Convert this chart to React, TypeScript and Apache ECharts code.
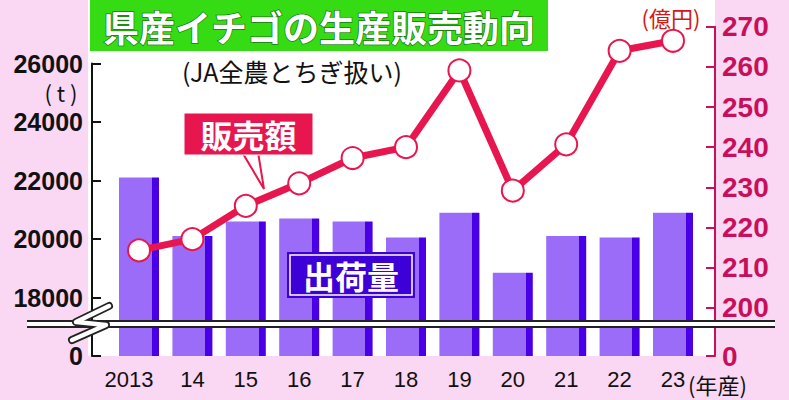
import { useEffect, useRef } from 'react'
import * as echarts from 'echarts'

const years = ['2013', '14', '15', '16', '17', '18', '19', '20', '21', '22', '23']
// 出荷量 (t)
const shipments = [22100, 20100, 20600, 20700, 20600, 20050, 20900, 18850, 20100, 20050, 20900]
// 販売額 (億円)
const sales = [214.3, 217.1, 225.4, 231.0, 237.3, 240.0, 259.1, 229.2, 240.7, 264.0, 266.5]

// left axis: the bottom value stands for "0" (axis is broken below 18000)
const leftBase = 16000
const leftMax = 26000
const leftStep = 2000
// right axis: same idea, bottom value stands for "0"
const rightBase = 188
const rightMax = 270
const rightTicks = [188, 200, 210, 220, 230, 240, 250, 260, 270]

const digits = "'Liberation Sans', Arial, sans-serif"

const PINK = '#fad7f3'
const RED = '#e8164e'
const RED_AXIS = '#c8105a'
const BAR_LIGHT = '#9a6cf8'
const BAR_DARK = '#4a00e6'
const BOX_BLUE = '#3d00d6'

export default function App() {
  const ref = useRef<HTMLDivElement | null>(null)

  useEffect(() => {
    document.body.style.margin = '0'
    if (!ref.current) {
      return
    }
    const chart = echarts.init(ref.current, undefined, { renderer: 'svg' })

    const barColor = new echarts.graphic.LinearGradient(0, 0, 1, 0, [
      { offset: 0, color: BAR_LIGHT },
      { offset: 0.82, color: BAR_LIGHT },
      { offset: 0.82, color: BAR_DARK },
      { offset: 1, color: BAR_DARK },
    ])

    chart.setOption({
      animation: false,
      grid: [
        { left: 112.3, right: 89.3, top: 63.5, bottom: 44 },
        { left: 112.3, right: 89.3, top: 26.7, bottom: 44 },
      ],
      xAxis: [
        {
          type: 'category',
          gridIndex: 0,
          data: years,
          axisLine: { show: false },
          axisTick: { show: false },
          axisLabel: {
            interval: 0,
            margin: 12,
            color: '#111',
            fontFamily: digits,
            fontSize: 22,
            formatter: (v: string, i: number) => (i === 0 ? '{a|' + v + '}' : v),
            rich: { a: { fontFamily: digits, fontSize: 22, color: '#111', padding: [0, 20, 0, 0] } },
          },
        },
        { type: 'category', gridIndex: 1, data: years, show: false },
      ],
      yAxis: [
        {
          type: 'value',
          gridIndex: 0,
          position: 'left',
          offset: 20.3,
          min: leftBase,
          max: leftMax,
          interval: leftStep,
          splitLine: { show: false },
          axisLine: { show: true, lineStyle: { color: '#111', width: 2 } },
          axisTick: { show: true, inside: true, length: 9, lineStyle: { color: '#111', width: 2 } },
          axisLabel: {
            margin: 9,
            color: '#111',
            fontFamily: digits,
            fontWeight: 'bold',
            fontSize: 25,
            formatter: (v: number) => (v === leftBase ? '0' : String(v)),
          },
        },
        {
          type: 'value',
          gridIndex: 1,
          position: 'right',
          offset: 15.3,
          min: rightBase,
          max: rightMax,
          splitLine: { show: false },
          axisLine: { show: true, lineStyle: { color: RED_AXIS, width: 2 } },
          axisTick: {
            show: true,
            inside: true,
            length: 9,
            customValues: rightTicks,
            lineStyle: { color: RED_AXIS, width: 2 },
          },
          axisLabel: {
            margin: 7,
            color: RED_AXIS,
            fontFamily: digits,
            fontWeight: 'bold',
            fontSize: 28,
            lineHeight: 24,
            customValues: rightTicks,
            formatter: (v: number) => (v === rightBase ? '0' : String(v)),
          },
        },
      ],
      series: [
        {
          type: 'bar',
          xAxisIndex: 0,
          yAxisIndex: 0,
          data: shipments,
          barWidth: 40,
          itemStyle: { color: barColor },
          z: 2,
        },
        {
          type: 'line',
          xAxisIndex: 1,
          yAxisIndex: 1,
          data: sales,
          symbol: 'circle',
          symbolSize: 22,
          lineStyle: { color: RED, width: 7 },
          itemStyle: { color: '#fff', borderColor: RED, borderWidth: 2 },
          z: 5,
        },
      ],
      graphic: [
        { type: 'rect', z: -10, shape: { x: 88, y: 0, width: 627, height: 356 }, style: { fill: '#fff' } },
        // title
        { type: 'rect', z: 50, shape: { x: 90, y: 0, width: 458, height: 51 }, style: { fill: '#35dc14' } },
        {
          type: 'text',
          z: 51,
          x: 103,
          y: 26,
          style: {
            text: '県産イチゴの生産販売動向',
            fill: '#fff',
            stroke: '#1d7a12',
            lineWidth: 1.5,
            font: "bold 36px 'Noto Sans CJK JP', sans-serif",
            verticalAlign: 'middle',
          },
        },
        {
          type: 'text',
          z: 51,
          x: 182,
          y: 71,
          style: { text: '(JA全農とちぎ扱い)', fill: '#111', font: "25px 'Noto Sans CJK JP', sans-serif", verticalAlign: 'middle' },
        },
        {
          type: 'text',
          z: 51,
          x: 61,
          y: 92,
          style: { text: '( t )', fill: '#111', font: "22px 'Noto Sans CJK JP', sans-serif", align: 'center', verticalAlign: 'middle' },
        },
        {
          type: 'text',
          z: 51,
          x: 671,
          y: 17,
          style: { text: '(億円)', fill: '#d41818', font: "22px 'Noto Sans CJK JP', sans-serif", align: 'center', verticalAlign: 'middle' },
        },
        {
          type: 'text',
          z: 51,
          x: 688,
          y: 384,
          style: { text: '(年産)', fill: '#111', font: "22px 'Noto Sans CJK JP', sans-serif", lineHeight: 22, verticalAlign: 'middle' },
        },
        // 販売額 callout
        {
          type: 'polygon',
          z: 52,
          shape: { points: [[242, 152], [258, 152], [264, 189]] },
          style: { fill: '#fff', stroke: RED, lineWidth: 2 },
        },
        {
          type: 'rect',
          z: 53,
          shape: { x: 184, y: 113, width: 129, height: 42 },
          style: { fill: RED, stroke: '#fff', lineWidth: 1 },
        },
        {
          type: 'text',
          z: 54,
          x: 248.5,
          y: 134,
          style: { text: '販売額', fill: '#fff', font: "bold 32px 'Noto Sans CJK JP', sans-serif", align: 'center', verticalAlign: 'middle' },
        },
        // 出荷量 label
        {
          type: 'rect',
          z: 53,
          shape: { x: 287, y: 252, width: 128, height: 46 },
          style: { fill: BOX_BLUE },
        },
        {
          type: 'rect',
          z: 53,
          shape: { x: 290, y: 255, width: 122, height: 40 },
          style: { fill: BOX_BLUE, stroke: '#fff', lineWidth: 1.5 },
        },
        {
          type: 'text',
          z: 54,
          x: 351,
          y: 275,
          style: { text: '出荷量', fill: '#fff', font: "bold 32px 'Noto Sans CJK JP', sans-serif", align: 'center', verticalAlign: 'middle' },
        },
        // axis break band
        { type: 'rect', z: 60, shape: { x: 27, y: 321, width: 748, height: 6 }, style: { fill: '#fff' } },
        { type: 'line', z: 61, shape: { x1: 27, y1: 321, x2: 775, y2: 321 }, style: { stroke: '#222', lineWidth: 2 } },
        { type: 'line', z: 61, shape: { x1: 27, y1: 327, x2: 775, y2: 327 }, style: { stroke: '#222', lineWidth: 2 } },
        {
          type: 'polyline',
          z: 62,
          shape: { points: [[109, 306], [76, 322], [106, 325], [72, 340]] },
          style: { stroke: '#222', lineWidth: 8, lineJoin: 'round', lineCap: 'round' },
        },
        {
          type: 'polyline',
          z: 63,
          shape: { points: [[109, 306], [76, 322], [106, 325], [72, 340]] },
          style: { stroke: '#fff', lineWidth: 4.5, lineJoin: 'round', lineCap: 'round' },
        },
      ],
    })

    return () => {
      chart.dispose()
    }
  }, [])

  return <div ref={ref} style={{ width: 789, height: 400, background: PINK }} />
}
